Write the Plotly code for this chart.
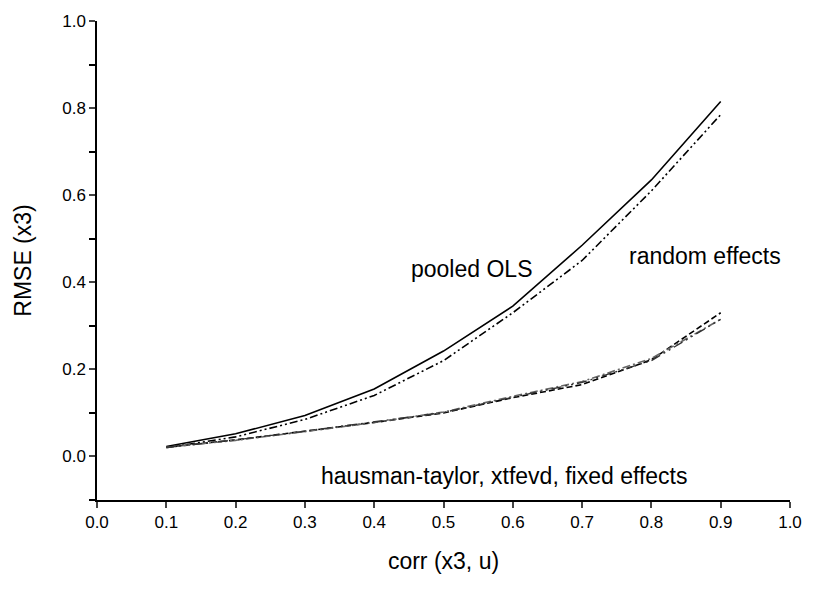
import plotly.graph_objects as go

corr = [0.1, 0.2, 0.3, 0.4, 0.5, 0.6, 0.7, 0.8, 0.9]
pooled_ols = [0.023, 0.052, 0.094, 0.155, 0.242, 0.345, 0.485, 0.635, 0.815]
random_effects = [0.020, 0.045, 0.085, 0.140, 0.220, 0.330, 0.450, 0.610, 0.785]
hausman_taylor = [0.021, 0.038, 0.058, 0.078, 0.100, 0.135, 0.165, 0.222, 0.33]
xtfevd = [0.021, 0.037, 0.057, 0.078, 0.102, 0.138, 0.172, 0.225, 0.315]
fixed_effects = [0.021, 0.038, 0.058, 0.079, 0.101, 0.136, 0.170, 0.220, 0.315]

series = [
    ("pooled OLS", pooled_ols, "black", "solid", 1.6),
    ("random effects", random_effects, "black", "8px,3px,2px,3px,2px,3px", 1.6),
    ("hausman-taylor", hausman_taylor, "black", "6px,3px", 1.6),
    ("xtfevd", xtfevd, "#666666", "8px,3px,2px,3px", 1.6),
    ("fixed effects", fixed_effects, "#333333", "10px,4px,2px,4px,2px,4px", 1.4),
]

fig = go.Figure()
for name, vals, color, dash, w in series:
    fig.add_trace(go.Scatter(x=corr, y=vals, mode="lines", name=name,
                             line=dict(color=color, dash=dash, width=w)))

font = "Liberation Sans, Arial, sans-serif"
fig.update_layout(
    width=814, height=604,
    margin=dict(l=97, r=17, t=18, b=104),
    paper_bgcolor="white", plot_bgcolor="white",
    showlegend=False,
    font=dict(family=font, color="black", size=14),
    xaxis=dict(range=[0, 1.0], tick0=0, dtick=0.1, tickformat=".1f",
               showgrid=False, zeroline=False, showline=True, linecolor="black",
               linewidth=1.5, ticks="outside", ticklen=6, tickwidth=1.5,
               tickfont=dict(size=17),
               title=dict(text="corr (x3, u)", font=dict(size=23), standoff=22)),
    yaxis=dict(range=[-0.1, 1.0], tick0=0, dtick=0.2, tickformat=".1f",
               showgrid=False, zeroline=False, showline=True, linecolor="black",
               linewidth=1.5, ticks="outside", ticklen=6, tickwidth=1.5,
               tickfont=dict(size=17),
               minor=dict(dtick=0.1, tick0=0, ticks="outside", ticklen=6, tickwidth=1.5,
                          tickcolor="black", showgrid=False),
               title=dict(text="RMSE (x3)", font=dict(size=23), standoff=24)),
)

fig.add_annotation(x=0.541, y=0.431, text="pooled OLS", showarrow=False,
                   font=dict(size=23, family=font), xref="x", yref="y")
fig.add_annotation(x=0.877, y=0.461, text="random effects", showarrow=False,
                   font=dict(size=23, family=font), xref="x", yref="y")
fig.add_annotation(x=0.587, y=-0.045, text="hausman-taylor, xtfevd, fixed effects",
                   showarrow=False, font=dict(size=23, family=font), xref="x", yref="y")

fig.write_html("out.html")
